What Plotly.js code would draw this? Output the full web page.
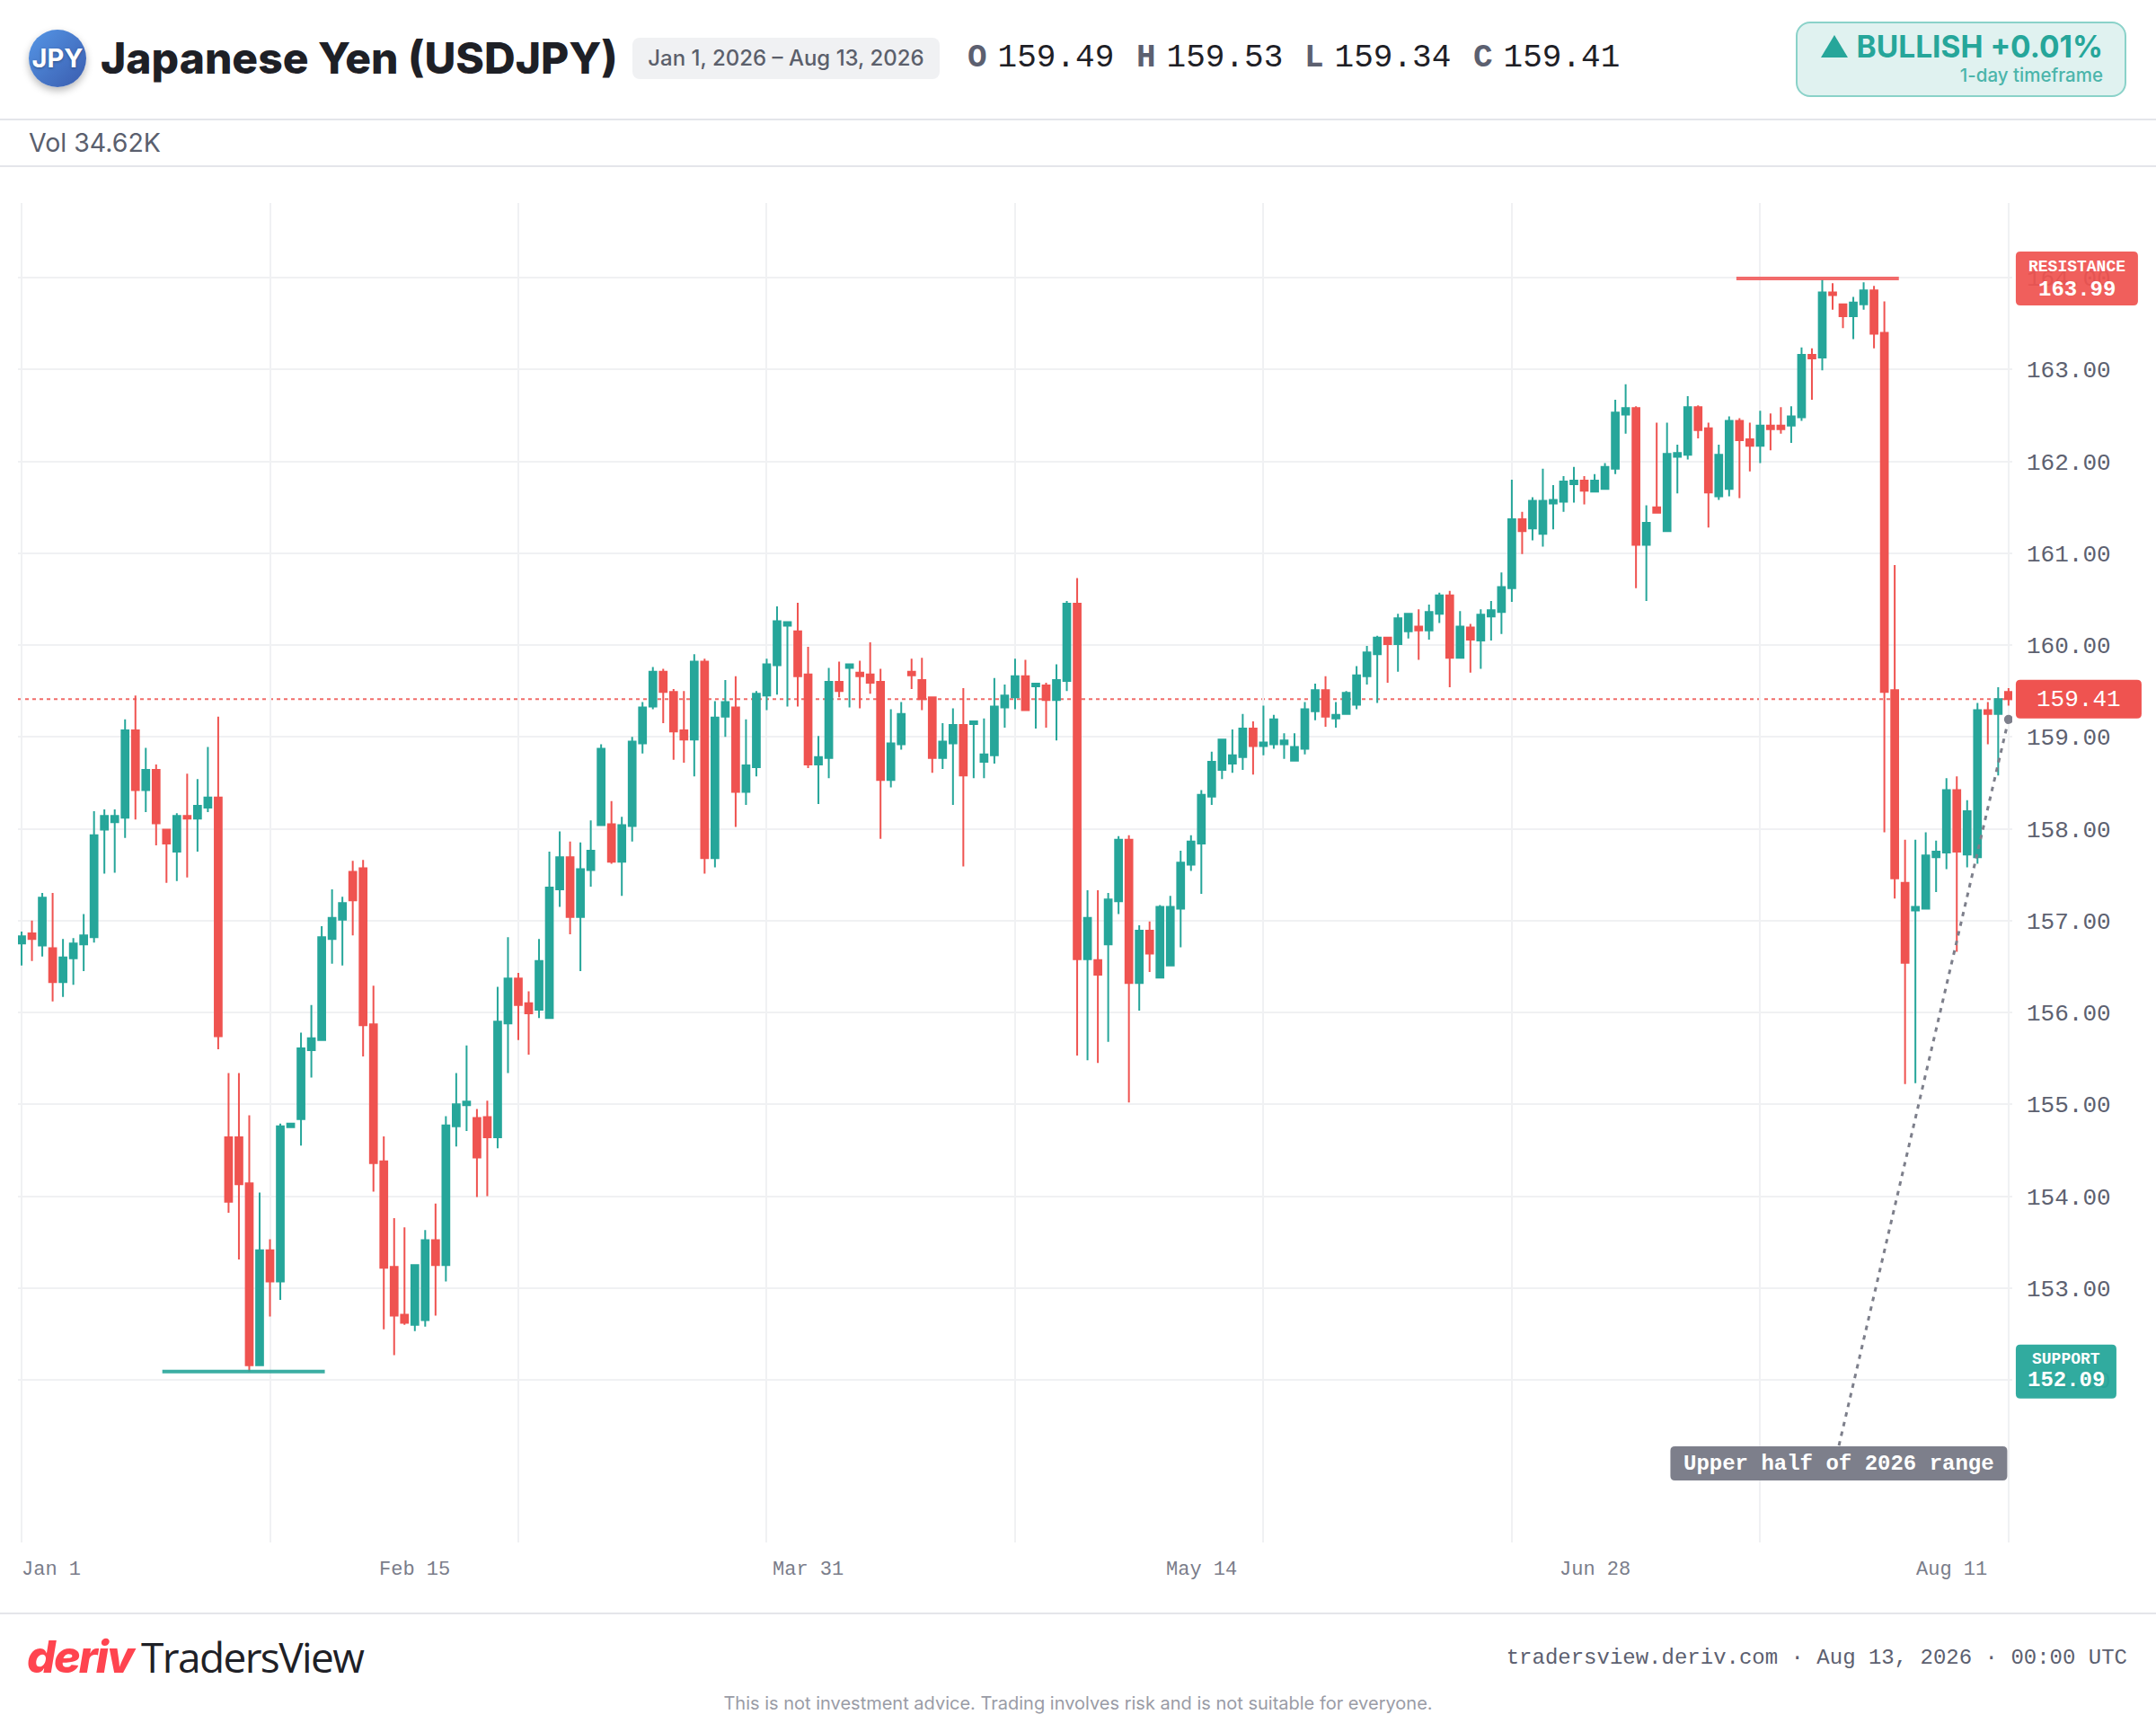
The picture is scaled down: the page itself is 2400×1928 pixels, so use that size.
<!DOCTYPE html>
<html>
<head>
<meta charset="utf-8">
<title>Japanese Yen (USDJPY)</title>
<script src="https://cdn.plot.ly/plotly-3.0.1.min.js"></script>
<style>
  html, body { margin: 0; padding: 0; background: #fff; }
  #page { position: relative; width: 2400px; height: 1928px; overflow: hidden; font-family: Inter, sans-serif; }
  #chart { position: absolute; left: 0; top: 0; width: 2400px; height: 1928px; }
  .abs { position: absolute; white-space: nowrap; z-index: 2; }
  .rule { position: absolute; left: 0; width: 2400px; height: 2px; background: #E4E5EA; z-index: 2; }
  .mono { font-family: "Liberation Mono", monospace; }
  .coin { left: 32px; top: 33px; width: 64px; height: 64px; border-radius: 50%; background: linear-gradient(135deg, #5596E6, #3A5CAE);
    box-shadow: 0 4px 8px rgba(0,0,0,.28); color: #fff; font-weight: 700; font-size: 29px; line-height: 64px; text-align: center; text-shadow: 0 1px 3px rgba(0,0,0,.35); }
  .title { left: 112px; top: 30px; font-size: 48px; line-height: 70px; font-weight: 800; color: #1E2026; }
  .pill { left: 704px; top: 42px; width: 342px; height: 46px; border-radius: 8px; background: #F0F1F3; color: #5B5F6B; font-size: 24px; font-weight: 500; line-height: 46px; text-align: center; }
  .ohlc { top: 43px; font-size: 36px; line-height: 44px; color: #1E2026; }
  .ohlc b { color: #5C6070; margin-right: 12px; }
  .badge { left: 1999px; top: 24px; width: 364px; height: 80px; border: 2px solid #8AD2C9; border-radius: 16px; background: #E0F2F0; }
  .badge .main { position: absolute; right: 24px; top: 2px; font-size: 33.5px; line-height: 48px; font-weight: 700; color: #26A69A; }
  .badge .sub { position: absolute; right: 24px; top: 44px; font-size: 20.5px; line-height: 28px; font-weight: 500; color: #26A69A; opacity: .8; }
  .tri { display: inline-block; width: 0; height: 0; border-left: 15px solid transparent; border-right: 15px solid transparent; border-bottom: 25px solid #26A69A; margin-right: 10px; }
  .vol { left: 32px; top: 140px; font-size: 28.5px; line-height: 38px; color: #5A5F6E; }
  .deriv { left: 30px; top: 1812px; font-size: 50px; line-height: 64px; font-weight: 800; font-style: italic; color: #FF444F; letter-spacing: -2px; }
  .brand { left: 157px; top: 1812px; font-family: "Open Sans", sans-serif; font-size: 46px; line-height: 64px; color: #1E2026; letter-spacing: -1.6px; }
  .stamp { right: 32px; top: 1831px; font-size: 24px; line-height: 30px; color: #5C6070; }
  .note { left: 0; width: 2400px; top: 1882px; text-align: center; font-size: 20px; line-height: 28px; color: #9A9CA6; }
</style>
</head>
<body>
<div id="page">
  <div id="chart"></div>
  <div class="abs coin">JPY</div>
  <div class="abs title">Japanese Yen (USDJPY)</div>
  <div class="abs pill">Jan 1, 2026 – Aug 13, 2026</div>
  <div class="abs ohlc mono" style="left:1077px"><b>O</b>159.49</div>
  <div class="abs ohlc mono" style="left:1265px"><b>H</b>159.53</div>
  <div class="abs ohlc mono" style="left:1452px"><b>L</b>159.34</div>
  <div class="abs ohlc mono" style="left:1640px"><b>C</b>159.41</div>
  <div class="abs badge">
    <div class="main"><span class="tri"></span>BULLISH +0.01%</div>
    <div class="sub">1-day timeframe</div>
  </div>
  <div class="rule" style="top:132px"></div>
  <div class="abs vol">Vol 34.62K</div>
  <div class="rule" style="top:184px"></div>
  <div class="rule" style="top:1795px"></div>
  <div class="abs deriv">deriv</div>
  <div class="abs brand">TradersView</div>
  <div class="abs stamp mono">tradersview.deriv.com · Aug 13, 2026 · 00:00 UTC</div>
  <div class="abs note">This is not investment advice. Trading involves risk and is not suitable for everyone.</div>
</div>
<script>
const opens = [
  156.75,156.86,156.73,156.70,156.33,156.59,156.74,156.82,157.99,158.07,158.12,159.07,158.42,158.64,157.99,157.75,158.14,158.11,158.23,158.34,
  154.64,154.64,154.14,152.16,153.41,153.07,154.75,154.84,155.59,155.70,156.80,157.01,157.53,157.57,155.87,154.38,153.23,152.71,152.60,152.65,
  153.52,153.25,154.76,154.99,154.85,154.86,154.64,155.88,156.37,156.10,156.03,155.94,157.34,157.69,157.04,157.55,158.04,158.05,157.64,158.03,
  158.93,159.33,159.71,159.49,159.07,158.97,159.82,157.68,159.22,159.32,158.40,158.67,159.45,159.78,160.21,160.15,159.68,158.70,158.77,159.60,
  159.75,159.70,159.68,159.60,158.53,158.92,159.71,159.62,159.43,158.77,158.93,159.13,159.14,158.73,158.80,159.32,159.43,159.66,159.55,159.56,
  159.40,159.61,160.45,156.58,156.57,156.74,157.21,157.88,156.32,156.89,156.38,156.51,157.13,157.61,157.84,158.35,158.64,158.71,158.78,159.09,
  158.90,158.92,158.92,158.74,158.87,159.28,159.51,159.20,159.25,159.35,159.66,159.90,160.08,160.01,160.15,160.20,160.16,160.34,160.54,159.86,
  160.19,160.05,160.31,160.36,160.62,161.37,161.27,161.21,161.54,161.56,161.75,161.79,161.67,161.70,161.92,162.51,162.58,161.09,161.50,161.24,
  162.05,162.07,162.59,162.36,161.62,161.70,162.44,162.24,162.17,162.39,162.39,162.39,162.48,163.16,163.13,163.84,163.71,163.58,163.71,163.86,
  163.40,159.51,157.41,157.11,157.13,157.69,157.74,158.42,157.72,157.69,159.29,159.25,159.49
];
const highs = [
  156.88,157.00,157.30,157.30,156.80,156.81,157.07,158.19,158.21,158.21,159.19,159.45,158.88,158.70,157.99,158.17,158.60,158.54,158.89,159.22,
  155.34,155.34,154.88,154.04,153.53,154.79,154.79,155.78,156.08,156.94,157.34,157.26,157.65,157.66,156.29,154.65,153.76,153.66,153.25,153.63,
  153.92,154.87,155.34,155.64,154.95,155.04,156.28,156.82,156.43,156.23,156.80,157.75,157.97,157.86,157.85,158.09,158.92,158.30,158.13,159.00,
  159.38,159.76,159.74,159.52,159.50,159.90,159.85,159.39,159.62,159.66,159.19,159.50,159.85,160.42,160.25,160.46,159.98,159.01,159.75,159.82,
  159.79,159.83,160.03,159.74,159.30,159.38,159.85,159.86,159.43,159.15,159.31,159.53,159.17,159.20,159.64,159.57,159.85,159.84,159.58,159.59,
  159.79,160.48,160.73,157.33,157.33,157.30,157.92,157.93,156.95,156.99,157.17,157.27,157.76,157.93,158.42,158.84,158.97,159.08,159.25,159.17,
  159.34,159.24,159.04,159.04,159.38,159.58,159.66,159.38,159.50,159.77,159.99,160.10,160.08,160.34,160.35,160.39,160.44,160.57,160.59,160.37,
  160.23,160.39,160.48,160.79,161.80,161.45,161.61,161.92,161.74,161.84,161.94,161.84,161.86,161.98,162.67,162.84,162.60,161.52,162.42,162.42,
  162.18,162.71,162.61,162.42,162.18,162.49,162.47,162.42,162.55,162.52,162.59,162.60,163.24,163.23,163.98,163.94,163.72,163.79,163.95,163.91,
  163.74,160.87,157.88,157.88,157.96,157.87,158.55,158.57,158.31,159.37,159.38,159.54,159.53
];
const lows = [
  156.51,156.56,156.61,156.12,156.17,156.30,156.45,156.76,157.51,157.52,157.90,158.10,158.18,157.82,157.41,157.43,157.47,157.75,158.18,155.60,
  153.82,153.31,152.09,152.15,152.69,152.87,154.75,154.55,155.29,155.69,156.53,156.51,156.84,155.52,154.05,152.55,152.27,152.60,152.53,152.58,
  152.70,153.07,154.54,154.71,153.99,154.00,154.52,155.34,155.70,155.54,155.94,155.93,157.15,156.85,156.45,157.37,158.03,157.62,157.27,157.86,
  158.82,159.30,159.15,158.75,158.72,158.57,157.51,157.58,159.00,158.02,158.26,158.57,159.29,159.46,159.33,159.33,158.66,158.27,158.55,159.43,
  159.32,159.31,159.47,157.89,158.45,158.86,159.52,159.29,158.61,158.65,158.26,157.59,158.55,158.55,158.71,159.10,159.30,159.29,159.09,159.10,
  158.96,159.50,155.53,155.48,155.45,155.68,157.07,155.02,156.02,156.44,156.38,156.51,156.71,157.54,157.29,158.26,158.54,158.61,158.64,158.59,
  158.80,158.87,158.76,158.74,158.81,159.18,159.11,159.10,159.25,159.30,159.57,159.37,159.59,159.71,160.07,159.84,160.06,160.24,159.54,159.86,
  159.70,159.74,160.05,160.12,160.47,160.99,161.14,161.07,161.26,161.45,161.55,161.53,161.67,161.70,161.86,162.30,160.62,160.48,161.44,161.23,
  161.65,162.02,162.25,161.28,161.58,161.62,161.60,161.89,161.98,162.12,162.30,162.20,162.44,162.67,162.99,163.65,163.45,163.33,163.65,163.23,
  157.96,157.24,155.22,155.23,157.13,157.31,157.56,156.66,157.58,157.62,158.92,158.58,159.34
];
const closes = [
  156.83,156.80,157.25,156.33,156.60,156.75,156.84,157.93,158.14,158.14,159.07,158.42,158.64,158.06,157.84,158.14,158.11,158.25,158.34,155.74,
  153.94,154.13,152.16,153.41,153.07,154.76,154.79,155.61,155.72,156.82,157.03,157.19,157.22,155.86,154.36,153.22,152.70,152.62,153.25,153.52,
  153.25,154.77,155.00,155.03,154.42,154.64,155.90,156.37,156.08,155.99,156.56,157.36,157.69,157.04,157.56,157.76,158.87,157.64,158.04,158.95,
  159.32,159.71,159.49,159.06,158.97,159.82,157.68,159.21,159.38,158.40,158.69,159.47,159.79,160.26,160.25,159.66,158.70,158.78,159.60,159.50,
  159.79,159.66,159.59,158.53,158.93,159.25,159.67,159.41,158.77,158.95,159.13,158.58,159.17,158.81,159.33,159.45,159.66,159.29,159.58,159.40,
  159.62,160.45,156.58,157.03,156.41,157.23,157.88,156.32,156.89,156.64,157.15,157.15,157.63,157.86,158.37,158.73,158.97,158.80,159.09,158.90,
  158.94,159.19,158.96,158.89,159.30,159.51,159.22,159.24,159.48,159.67,159.92,160.08,160.01,160.29,160.34,160.16,160.36,160.54,159.86,160.20,
  160.06,160.33,160.38,160.63,161.37,161.24,161.57,161.57,161.58,161.78,161.79,161.68,161.79,161.94,162.53,162.58,161.09,161.33,161.44,162.08,
  162.09,162.59,162.34,161.66,162.07,162.44,162.23,162.17,162.39,162.35,162.35,162.49,163.16,163.12,163.84,163.81,163.58,163.73,163.86,163.39,
  159.49,157.46,156.54,157.15,157.71,157.75,158.42,157.75,158.19,159.29,159.25,159.41,159.41
];
const priceTicks = [152, 153, 154, 155, 156, 157, 158, 159, 160, 161, 162, 163, 164];
const gridCandles = [0, 24, 48, 72, 96, 120, 144, 168, 192];
const labelCandles = [0, 38, 76, 114, 152, 190];
const labelTexts = ['Jan 1', 'Feb 15', 'Mar 31', 'May 14', 'Jun 28', 'Aug 11'];
const lastPrice = 159.41;
const resistance = 163.99;
const support = 152.09;
const calloutPrice = 159.19;
const calloutBoxPrice = 151.09;

const UP = '#26A69A';
const DOWN = '#EF5350';
const GREY = '#7D7F8B';
const MONO = '"Liberation Mono", monospace';
const candleIndex = opens.map((_, i) => i);

// rounded box that stays centred on a price, sized in pixels
function tagShape(xref, x, price, w, h, color, opacity) {
  const a = w / 2, b = h / 2, r = 5;
  return {
    type: 'path', xref: xref, yref: 'y', xsizemode: 'pixel', ysizemode: 'pixel',
    xanchor: x, yanchor: price, fillcolor: color, opacity: opacity, line: { width: 0 },
    path: `M ${-a + r} ${-b} L ${a - r} ${-b} Q ${a} ${-b} ${a} ${-b + r} L ${a} ${b - r} Q ${a} ${b} ${a - r} ${b} ` +
          `L ${-a + r} ${b} Q ${-a} ${b} ${-a} ${b - r} L ${-a} ${-b + r} Q ${-a} ${-b} ${-a + r} ${-b} Z`,
  };
}
function tagText(xref, x, price, text, size, yshift) {
  return {
    xref: xref, yref: 'y', x: x, y: price, text: text, showarrow: false, yshift: yshift,
    xanchor: 'center', yanchor: 'middle', font: { family: MONO, size: size, color: '#fff' },
  };
}
function levelLine(x0, x1, price, color) {
  return { type: 'line', x0: x0, x1: x1, y0: price, y1: price, xref: 'x', yref: 'y', opacity: .9, line: { color: color, width: 4 } };
}
function chart(container) {
  const data = [
    {
      type: 'candlestick', x: candleIndex, open: opens, high: highs, low: lows, close: closes,
      increasing: { line: { color: UP, width: 2 }, fillcolor: UP },
      decreasing: { line: { color: DOWN, width: 2 }, fillcolor: DOWN },
      whiskerwidth: 0, hoverinfo: 'skip', showlegend: false,
    },
    {
      type: 'scatter', mode: 'lines', x: [192, 175.6], y: [calloutPrice, calloutBoxPrice + 0.19],
      line: { color: GREY, width: 3, dash: '5px,6px' }, hoverinfo: 'skip', showlegend: false,
    },
    {
      type: 'scatter', mode: 'markers', x: [192], y: [calloutPrice],
      marker: { color: GREY, size: 10 }, hoverinfo: 'skip', showlegend: false,
    },
  ];
  const shapes = [
    {
      type: 'line', layer: 'below', xref: 'paper', x0: 0, x1: 1, yref: 'y', y0: lastPrice, y1: lastPrice,
      opacity: .85, line: { color: DOWN, width: 2, dash: '4px,4px' },
    },
    levelLine(165.7, 181.4, resistance, '#F25C5C'),
    levelLine(13.6, 29.3, support, '#26A69A'),
    tagShape('paper', 1.0324, resistance, 136, 60, DOWN, .93),
    tagShape('paper', 1.0270, support, 112, 60, UP, .95),
    tagShape('paper', 1.0333, lastPrice, 140, 43, DOWN, 1),
    tagShape('x', 175.6, calloutBoxPrice, 375, 38, GREY, 1),
  ];
  const annotations = [
    tagText('paper', 1.0324, resistance, '<b>RESISTANCE</b>', 18, 13),
    tagText('paper', 1.0324, resistance, '<b>163.99</b>', 24, -12),
    tagText('paper', 1.0270, support, '<b>SUPPORT</b>', 18, 14),
    tagText('paper', 1.0270, support, '<b>152.09</b>', 24, -10),
    tagText('paper', 1.0333, lastPrice, '159.41', 26, -1),
    tagText('x', 175.6, calloutBoxPrice, '<b>Upper half of 2026 range</b>', 24, 0),
  ];
  labelCandles.forEach((candle, i) => {
    annotations.push({
      xref: 'x', yref: 'paper', x: candle, y: -0.0205, text: labelTexts[i], showarrow: false,
      xanchor: i === 0 ? 'left' : i === labelCandles.length - 1 ? 'right' : 'center', yanchor: 'middle',
      xshift: i === 0 ? -2 : i === labelCandles.length - 1 ? 1 : 0, font: { family: MONO, size: 22, color: '#7A7D8A' },
    });
  });
  const layout = {
    width: 2400, height: 1928, autosize: false,
    margin: { l: 20, r: 160, t: 226, b: 211, pad: 0 },
    paper_bgcolor: 'rgba(0,0,0,0)', plot_bgcolor: 'rgba(0,0,0,0)',
    showlegend: false, hovermode: false,
    boxgap: 0.33, boxgroupgap: 0,
    xaxis: {
      type: 'linear', range: [-0.35, 192.36], tickmode: 'array', tickvals: gridCandles, showticklabels: false,
      ticks: '', showgrid: true, gridcolor: '#F0F1F3', gridwidth: 2, zeroline: false, showline: false,
      rangeslider: { visible: false },
    },
    yaxis: {
      side: 'right', range: [150.230, 164.812], tickmode: 'array', tickvals: priceTicks, tickformat: '.2f',
      ticks: '', ticklabelstandoff: 15, showgrid: true, gridcolor: '#F0F1F3', gridwidth: 2, zeroline: false, showline: false,
      tickfont: { family: MONO, size: 26, color: '#5D6170' },
    },
    shapes: shapes,
    annotations: annotations,
  };
  Plotly.newPlot(container, data, layout, { displayModeBar: false, responsive: false });
}
chart('chart');
</script>
</body>
</html>
